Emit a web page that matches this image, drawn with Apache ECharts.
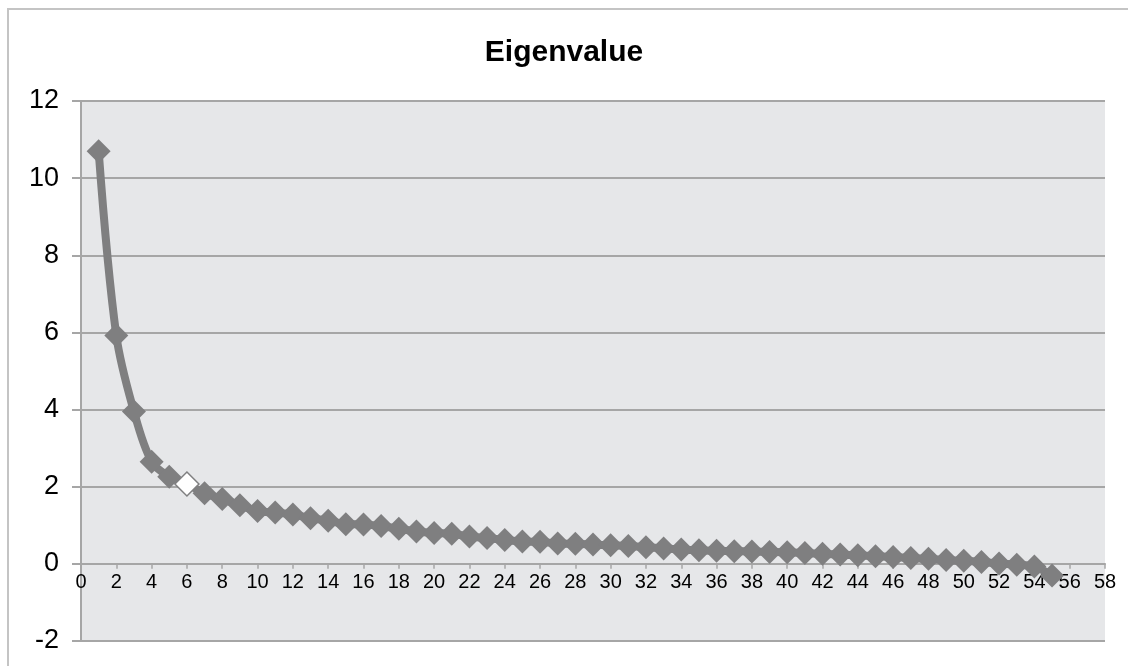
<!DOCTYPE html>
<html>
<head>
<meta charset="utf-8">
<script src="https://cdn.jsdelivr.net/npm/echarts@6/dist/echarts.min.js"></script>
<style>
html,body{margin:0;padding:0;background:#fff;}
#chart{width:1128px;height:666px;}
</style>
</head>
<body>
<div id="chart"></div>
<script>
var chartTitle = 'Eigenvalue';
var components = [1,2,3,4,5,6,7,8,9,10,11,12,13,14,15,16,17,18,19,20,21,22,23,24,25,26,27,28,29,30,31,32,33,34,35,36,37,38,39,40,41,42,43,44,45,46,47,48,49,50,51,52,53,54,55];
var eigenvalues = [10.70,5.92,3.95,2.65,2.26,2.07,1.83,1.68,1.52,1.37,1.33,1.28,1.18,1.12,1.03,1.02,0.98,0.91,0.84,0.80,0.78,0.71,0.67,0.62,0.58,0.57,0.53,0.52,0.50,0.48,0.46,0.43,0.40,0.37,0.35,0.34,0.33,0.32,0.31,0.30,0.28,0.26,0.24,0.22,0.20,0.18,0.15,0.13,0.10,0.08,0.05,0.01,-0.02,-0.07,-0.30];
var highlightIndex = 5;

var yMin = -2, yMax = 12;
var gridTop = 101, gridBottom = 25, chartH = 666;
var gridH = chartH - gridTop - gridBottom;
// shift the x axis up so that it sits on y = 0
var xAxisOffset = -gridH * (0 - yMin) / (yMax - yMin);

var lineColor = '#7f7f80';
var data = components.map(function(c, i){
  var item = { value: [c, eigenvalues[i]] };
  if (i === highlightIndex) {
    item.itemStyle = { color: '#ffffff', borderColor: lineColor, borderWidth: 1.5 };
  }
  return item;
});

var chart = echarts.init(document.getElementById('chart'), null, {renderer:'canvas'});
chart.setOption({
  animation: false,
  backgroundColor: '#ffffff',
  textStyle: { fontFamily: 'Liberation Sans, Arial, sans-serif' },
  graphic: [{
    type: 'rect', z: -10, silent: true,
    shape: { x: 8, y: 9, width: 1140, height: 700 },
    style: { fill: 'none', stroke: '#c4c4c4', lineWidth: 2 }
  }],
  title: {
    text: chartTitle, left: 'center', top: 33,
    textStyle: { fontSize: 30, fontWeight: 'bold', color: '#000', fontFamily: 'Liberation Sans, Arial, sans-serif' }
  },
  grid: {
    left: 81, right: 23, top: gridTop, bottom: gridBottom,
    show: true, backgroundColor: '#e6e7e9', borderWidth: 0
  },
  xAxis: {
    type: 'value', min: 0, max: 58, interval: 2,
    position: 'bottom', offset: xAxisOffset,
    axisLine: { show: true, onZero: false, lineStyle: { color: '#a6a6a6', width: 2 } },
    axisTick: { show: true, inside: false, length: 5, lineStyle: { color: '#a6a6a6', width: 1.5 } },
    axisLabel: { margin: 9, fontSize: 20, color: '#000', fontFamily: 'Liberation Sans, Arial, sans-serif' },
    splitLine: { show: false }
  },
  yAxis: {
    type: 'value', min: yMin, max: yMax, interval: 2,
    axisLine: { show: true, onZero: false, lineStyle: { color: '#a6a6a6', width: 2 } },
    axisTick: { show: true, inside: false, length: 9, lineStyle: { color: '#a6a6a6', width: 2 } },
    axisLabel: { margin: 22, fontSize: 27, color: '#000', fontFamily: 'Liberation Sans, Arial, sans-serif' },
    splitLine: { show: true, lineStyle: { color: '#a6a6a6', width: 2 } }
  },
  series: [{
    type: 'line',
    data: data,
    smooth: 0.35,
    symbol: 'diamond',
    symbolSize: [24, 24],
    lineStyle: { color: lineColor, width: 8 },
    itemStyle: { color: lineColor, borderWidth: 0 },
    z: 5
  }]
});
</script>
</body>
</html>
